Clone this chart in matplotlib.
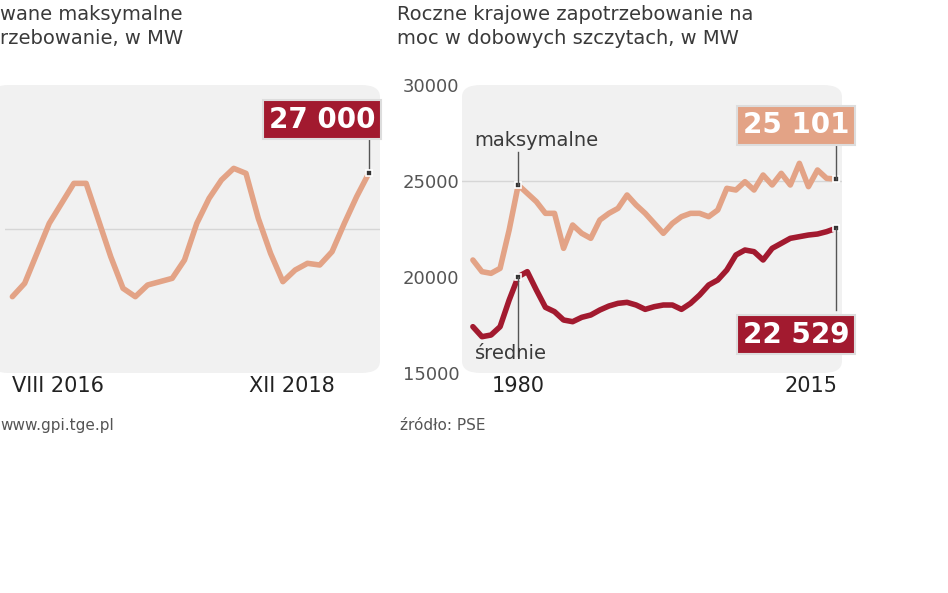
import matplotlib
matplotlib.use("Agg")
import numpy as np
import matplotlib.pyplot as plt
from matplotlib.patches import FancyBboxPatch

# left chart: monthly peak demand, VIII 2016 .. XII 2018 (MW)
left_vals = [22583, 23060, 24131, 25202, 25916, 26630, 26630, 25321, 24012, 22881,
             22583, 23000, 23119, 23238, 23893, 25202, 26095, 26749, 27166, 26987,
             25381, 24131, 23119, 23535, 23774, 23714, 24190, 25202, 26154, 27000]
left_ticks = ["VIII 2016", "XII 2018"]

# right chart: yearly demand 1975..2015 (MW)
years = list(range(1975, 2016))
max_vals = [20885, 20278, 20191, 20451, 22448, 24792, 24358, 23924, 23316, 23316,
            21493, 22708, 22274, 22014, 22969, 23316, 23576, 24271, 23750, 23316,
            22795, 22274, 22795, 23142, 23316, 23316, 23142, 23489, 24618, 24531,
            24965, 24531, 25312, 24792, 25399, 24792, 25920, 24705, 25573, 25139, 25101]
avg_vals = [17412, 16891, 16978, 17412, 18801, 20017, 20278, 19323, 18420, 18194,
            17760, 17673, 17899, 18021, 18281, 18489, 18628, 18680, 18541, 18315,
            18454, 18541, 18541, 18315, 18628, 19062, 19583, 19843, 20364, 21146,
            21406, 21319, 20885, 21493, 21753, 22014, 22101, 22187, 22239, 22361, 22529]

W, H = 948, 593
C_MAX = "#e3a386"
C_AVG = "#a21a2f"
TXT = "#3a3a3a"

fig = plt.figure(figsize=(W / 100, H / 100), dpi=100)
fig.patch.set_facecolor("white")


def px(x, y):
    return x / W, 1 - y / H


def rect(x0, y0, x1, y1):
    return [x0 / W, 1 - y1 / H, (x1 - x0) / W, (y1 - y0) / H]


# rounded panel backgrounds
for x0, x1 in [(-10, 380), (462, 842)]:
    fig.patches.append(FancyBboxPatch(px(x0, 373), (x1 - x0) / W, 288 / H,
                                      boxstyle="round,pad=0,rounding_size=0.02",
                                      transform=fig.transFigure, fc="#f1f1f1",
                                      ec="none", zorder=-5))

# ---- left chart
axl = fig.add_axes(rect(5, 85, 380, 373))
axl.set_facecolor("none")
axl.plot(range(len(left_vals)), left_vals, color=C_MAX, lw=4, solid_capstyle="round")
axl.axhline(25000, color="#d6d6d6", lw=1, zorder=0)
axl.set_xlim(-0.6, 29.9)
axl.set_ylim(19857, 30143)
axl.axis("off")
axl.plot([29, 29], [27000, 28300], color="#555555", lw=1)
axl.plot(29, 27000, "s", ms=5, mfc="#333333", mec="white", mew=1.2)
axl.text(29.5, 28900, "27 000", ha="right", va="center", color="white",
         fontsize=20, fontweight="bold",
         bbox=dict(boxstyle="square,pad=0.2", fc=C_AVG, ec="#dddddd", lw=1.5))

fig.text(*px(0, 5), "wane maksymalne\nrzebowanie, w MW", ha="left", va="top",
         fontsize=14, color=TXT, linespacing=1.35)
fig.text(*px(58, 376), left_ticks[0], ha="center", va="top", fontsize=15, color="#222222")
fig.text(*px(292, 376), left_ticks[1], ha="center", va="top", fontsize=15, color="#222222")
fig.text(*px(0, 418), "www.gpi.tge.pl", ha="left", va="top", fontsize=11, color="#555555")

# ---- right chart
axr = fig.add_axes(rect(462, 85, 842, 373))
axr.set_facecolor("none")
axr.axhline(25000, color="#d6d6d6", lw=1, zorder=0)
axr.plot(years, max_vals, color=C_MAX, lw=4, solid_capstyle="round")
axr.plot(years, avg_vals, color=C_AVG, lw=4, solid_capstyle="round")
axr.set_xlim(1973.8, 2015.7)
axr.set_ylim(15000, 30000)
for s in axr.spines.values():
    s.set_visible(False)
axr.set_xticks([])
axr.set_yticks([15000, 20000, 25000, 30000])
axr.tick_params(axis="y", length=0, labelsize=13, labelcolor="#555555", pad=2)

for v in (max_vals, avg_vals):
    axr.plot(1980, v[5], "s", ms=5, mfc="#333333", mec="white", mew=1.2)
    axr.plot(2015, v[-1], "s", ms=5, mfc="#333333", mec="white", mew=1.2)

axr.plot([1980, 1980], [max_vals[5], 26500], color="#555555", lw=1)
axr.text(1975.2, 26600, "maksymalne", ha="left", va="bottom", fontsize=14, color=TXT)
axr.plot([1980, 1980], [avg_vals[5], 15900], color="#555555", lw=1)
axr.text(1975.2, 16500, "średnie", ha="left", va="top", fontsize=14, color=TXT)

axr.plot([2015, 2015], [max_vals[-1], 27300], color="#555555", lw=1)
axr.text(2016.5, 27900, "25 101", ha="right", va="center", color="white",
         fontsize=20, fontweight="bold",
         bbox=dict(boxstyle="square,pad=0.2", fc=C_MAX, ec="#dddddd", lw=1.5))
axr.plot([2015, 2015], [avg_vals[-1], 18300], color="#555555", lw=1)
axr.text(2016.5, 17000, "22 529", ha="right", va="center", color="white",
         fontsize=20, fontweight="bold",
         bbox=dict(boxstyle="square,pad=0.2", fc=C_AVG, ec="#dddddd", lw=1.5))

fig.text(*px(397, 5), "Roczne krajowe zapotrzebowanie na\nmoc w dobowych szczytach, w MW",
         ha="left", va="top", fontsize=14, color=TXT, linespacing=1.35)
fig.text(*px(518, 376), "1980", ha="center", va="top", fontsize=15, color="#222222")
fig.text(*px(838, 376), "2015", ha="right", va="top", fontsize=15, color="#222222")
fig.text(*px(400, 418), "źródło: PSE", ha="left", va="top", fontsize=11, color="#555555")

fig.savefig("out.png", dpi=100)
